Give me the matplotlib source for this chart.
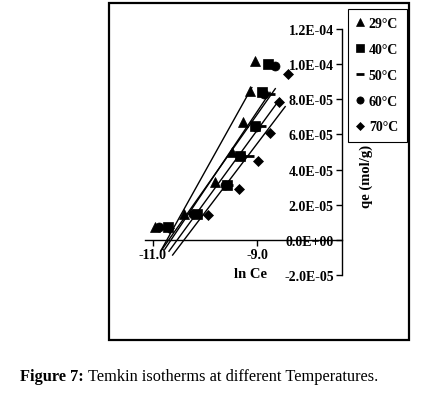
import matplotlib
matplotlib.use('Agg')
import matplotlib.pyplot as plt
import numpy as np
from matplotlib.patches import Rectangle
from matplotlib.ticker import FuncFormatter

plt.rcParams['font.family'] = ['Liberation Serif', 'DejaVu Serif']

# Temkin isotherm data: qe vs ln Ce, one series per temperature
temps = ['29°C', '40°C', '50°C', '60°C', '70°C']
markers = ['^', 's', '_', 'o', 'D']
marker_sizes = [6.5, 6.5, 7, 6.5, 5]

lnce_29 = [-10.96, -10.40, -9.81, -9.48, -9.27, -9.13, -9.04]
qe_29 = [7.4e-6, 1.5e-5, 3.3e-5, 5.0e-5, 6.7e-5, 8.5e-5, 1.02e-4]
lnce_40 = [-10.71, -10.15, -9.58, -9.33, -9.04, -8.90, -8.79]
qe_40 = [7.2e-6, 1.45e-5, 3.15e-5, 4.8e-5, 6.5e-5, 8.4e-5, 1.0e-4]
lnce_50 = [-10.78, -10.20, -9.55, -9.15, -8.92, -8.75, -8.75]
qe_50 = [7.0e-6, 1.45e-5, 3.1e-5, 4.8e-5, 6.5e-5, 8.3e-5, 1.0e-4]
lnce_60 = [-10.88, -10.22, -9.62, -9.30, -9.02, -8.86, -8.65]
qe_60 = [7.4e-6, 1.45e-5, 3.1e-5, 4.75e-5, 6.45e-5, 8.3e-5, 9.9e-5]
lnce_70 = [-10.68, -9.95, -9.35, -8.98, -8.75, -8.58, -8.40]
qe_70 = [7.0e-6, 1.4e-5, 2.9e-5, 4.5e-5, 6.1e-5, 7.85e-5, 9.45e-5]

# linear trendlines (slope, intercept) and their x extent
fit_slope = [5.32e-5, 4.42e-5, 4.21e-5, 4.07e-5, 3.91e-5]
fit_intercept = [5.708e-4, 4.707e-4, 4.502e-4, 4.286e-4, 4.066e-4]
fit_xstart = [-10.85, -10.77, -10.83, -10.69, -10.62]
fit_xend = [-9.10, -8.75, -8.65, -8.56, -8.46]

y_ticks = [-2e-5, 0, 2e-5, 4e-5, 6e-5, 8e-5, 1.0e-4, 1.2e-4]
x_ticks = [-11.0, -9.0]

series_x = [lnce_29, lnce_40, lnce_50, lnce_60, lnce_70]
series_y = [qe_29, qe_40, qe_50, qe_60, qe_70]

W, H = 448, 402
fig = plt.figure(figsize=(W / 100, H / 100), dpi=100)

# outer frame around the chart
fig.patches.append(Rectangle((109 / W, 1 - 341 / H), 300 / W, 337 / H,
                             transform=fig.transFigure, fill=False,
                             edgecolor='black', linewidth=1.6))

xmin, xmax = -11.15, -7.37
ax = fig.add_axes([145 / W, 1 - 276 / H, 197 / W, 246 / H])
ax.set_xlim(xmin, xmax)
ax.set_ylim(-2e-5, 1.2e-4)

handles = []
for i in range(len(temps)):
    xs = np.linspace(fit_xstart[i], fit_xend[i], 2)
    ax.plot(xs, fit_slope[i] * xs + fit_intercept[i], color='black', lw=1.0)
for i in range(len(temps)):
    h, = ax.plot(series_x[i], series_y[i], linestyle='none', marker=markers[i],
                 markersize=marker_sizes[i], color='black',
                 markeredgewidth=2 if markers[i] == '_' else 0.5)
    handles.append(h)

# axes styling: x axis at y=0, y axis at right end
ax.spines['top'].set_visible(False)
ax.spines['right'].set_visible(False)
ax.spines['bottom'].set_position(('data', 0))
ax.spines['left'].set_position(('data', xmax))
ax.spines['bottom'].set_linewidth(1.0)
ax.spines['left'].set_linewidth(1.0)

ax.set_xticks(x_ticks)
ax.set_xticklabels([f'{v:.1f}' for v in x_ticks])
ax.set_yticks(y_ticks)
ax.yaxis.set_major_formatter(FuncFormatter(lambda v, p: f'{v:.1E}'))
ax.tick_params(axis='both', direction='out', length=4, width=1.0,
               labelsize=10, pad=2)
for lab in ax.get_xticklabels() + ax.get_yticklabels():
    lab.set_fontweight('bold')

fig.text(250 / W, 1 - 275 / H, 'ln Ce', ha='center', va='center',
         fontsize=10.5, fontweight='bold')
fig.text(366 / W, 1 - 176 / H, 'qe (mol/g)', ha='center', va='center',
         rotation=90, fontsize=10.5, fontweight='bold')

leg = ax.legend(handles, temps, loc='upper left',
                bbox_to_anchor=(348 / W, 1 - 10 / H),
                bbox_transform=fig.transFigure, frameon=True, fancybox=False,
                edgecolor='black', framealpha=1, borderpad=0.6,
                labelspacing=0.92, handlelength=0.5, handletextpad=0.4,
                markerscale=0.8, borderaxespad=0,
                prop={'weight': 'bold', 'size': 10})
leg.get_frame().set_linewidth(0.8)

# caption
t1 = fig.text(20 / W, 1 - 377 / H, 'Figure 7:', ha='left', va='center',
              fontsize=11.8, fontweight='bold')
fig.canvas.draw()
bb = t1.get_window_extent()
fig.text(bb.x1 / W + 4 / W, 1 - 377 / H,
         'Temkin isotherms at different Temperatures.',
         ha='left', va='center', fontsize=11.8)

fig.savefig('out.png', dpi=100)
